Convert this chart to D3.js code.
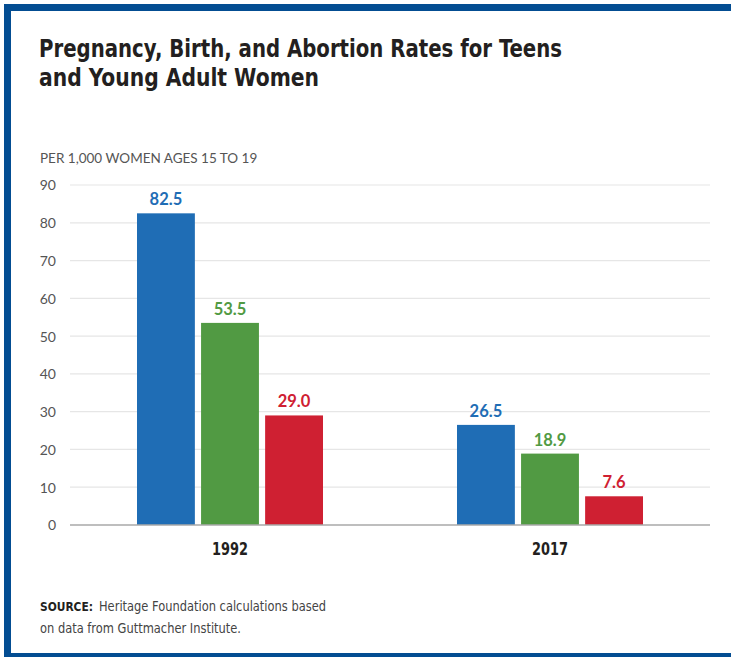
<!DOCTYPE html>
<html>
<head>
<meta charset="utf-8">
<script src="https://cdn.jsdelivr.net/npm/d3@7"></script>
<style>
  html, body { margin: 0; padding: 0; background: #fff; }
  svg { display: block; }
  .cond { font-family: "DejaVu Sans", sans-serif; font-stretch: condensed; }
</style>
</head>
<body>
<svg id="chart" width="731" height="657"></svg>
<script>
// Rates per 1,000 women ages 15 to 19
const years = ["1992", "2017"];
const measures = ["Pregnancy", "Birth", "Abortion"];
const pregnancy = [82.5, 26.5];
const birth = [53.5, 18.9];
const abortion = [29.0, 7.6];
const yTicks = [0, 10, 20, 30, 40, 50, 60, 70, 80, 90];
const colors = ["#1f6db5", "#519a43", "#cf2032"];

const seriesValues = [pregnancy, birth, abortion];
const rows = years.map((yr, i) => ({
  year: yr,
  values: measures.map((m, j) => ({ key: m, value: seriesValues[j][i], color: colors[j] }))
}));

const svg = d3.select("#chart");
const W = 731, H = 657;

// Frame: blue rule along top, left and bottom
const frame = "#034d92";
svg.append("rect").attr("x", 4).attr("y", 4).attr("width", W - 4).attr("height", 7).attr("fill", frame);
svg.append("rect").attr("x", 4).attr("y", 4).attr("width", 7).attr("height", H - 4).attr("fill", frame);
svg.append("rect").attr("x", 4).attr("y", 653).attr("width", W - 4).attr("height", 4).attr("fill", frame);

// Title (two lines, condensed bold)
const titleLines = [
  { text: "Pregnancy, Birth, and Abortion Rates for Teens", y: 57, len: 523 },
  { text: "and Young Adult Women", y: 86, len: 280 }
];
svg.append("g").selectAll("text").data(titleLines).join("text")
  .attr("class", "cond")
  .attr("x", 39).attr("y", d => d.y)
  .attr("font-weight", "bold").attr("font-size", 25).attr("fill", "#231f20")
  .attr("textLength", d => d.len).attr("lengthAdjust", "spacingAndGlyphs")
  .text(d => d.text);

// Unit note
svg.append("text")
  .attr("x", 40).attr("y", 163)
  .attr("font-family", "Lato, sans-serif").attr("font-size", 13.5).attr("fill", "#555")
  .text("PER 1,000 WOMEN AGES 15 TO 19");

const x0 = d3.scaleBand().domain(years).range([70, 710]).paddingInner(0).paddingOuter(0);
const groupW = 186;
const x1 = d3.scaleBand().domain(measures).range([0, groupW]).paddingInner(6 / 62).paddingOuter(0);
const y = d3.scaleLinear().domain([0, 90]).range([525, 185]);

// Gridlines and y labels
const yAxis = d3.axisLeft(y).tickValues(yTicks).tickSize(0).tickPadding(0);
const gy = svg.append("g").attr("transform", "translate(56,0)").call(yAxis);
gy.select(".domain").remove();
gy.selectAll("text")
  .attr("font-family", "Lato, sans-serif").attr("font-size", 14).attr("fill", "#555")
  .attr("dy", "0.35em");

svg.append("g").selectAll("line").data(yTicks.filter(t => t > 0)).join("line")
  .attr("x1", 70).attr("x2", 710)
  .attr("y1", d => y(d)).attr("y2", d => y(d))
  .attr("stroke", "#e6e6e6").attr("stroke-width", 1.2);

// Bars and value labels
const groups = svg.append("g").selectAll("g").data(rows).join("g")
  .attr("transform", d => `translate(${x0(d.year) + (x0.bandwidth() - groupW) / 2},0)`);

groups.selectAll("rect").data(d => d.values).join("rect")
  .attr("x", d => x1(d.key)).attr("width", x1.bandwidth())
  .attr("y", d => y(d.value)).attr("height", d => y(0) - y(d.value))
  .attr("fill", d => d.color);

groups.selectAll("text.val").data(d => d.values).join("text")
  .attr("class", "val")
  .attr("x", d => x1(d.key) + x1.bandwidth() / 2)
  .attr("y", d => y(d.value) - 8)
  .attr("text-anchor", "middle")
  .attr("font-family", "Lato, sans-serif").attr("font-weight", "bold").attr("font-size", 16.5)
  .attr("fill", d => d.color)
  .text(d => d.value.toFixed(1));

// Baseline
svg.append("line").attr("x1", 70).attr("x2", 710).attr("y1", y(0)).attr("y2", y(0))
  .attr("stroke", "#a8a8a8").attr("stroke-width", 1.5);

// X axis labels
const xAxis = d3.axisBottom(x0).tickSize(0).tickPadding(0);
const gx = svg.append("g").attr("transform", `translate(0,${y(0)})`).call(xAxis);
gx.select(".domain").remove();
gx.selectAll("text")
  .attr("class", "cond")
  .attr("font-family", null)
  .attr("font-weight", "bold").attr("font-size", 17).attr("fill", "#231f20")
  .attr("textLength", 36).attr("lengthAdjust", "spacingAndGlyphs")
  .attr("y", 30).attr("dy", 0);

// Source note
svg.append("text").attr("class", "cond")
  .attr("x", 40).attr("y", 611).attr("font-size", 13).attr("font-weight", "bold").attr("fill", "#231f20")
  .attr("textLength", 53).attr("lengthAdjust", "spacingAndGlyphs")
  .text("SOURCE:");
svg.append("text").attr("class", "cond")
  .attr("x", 99).attr("y", 611).attr("font-size", 14.5).attr("fill", "#444")
  .attr("textLength", 227).attr("lengthAdjust", "spacingAndGlyphs")
  .text("Heritage Foundation calculations based");
svg.append("text").attr("class", "cond")
  .attr("x", 40).attr("y", 633).attr("font-size", 14.5).attr("fill", "#444")
  .attr("textLength", 201).attr("lengthAdjust", "spacingAndGlyphs")
  .text("on data from Guttmacher Institute.");
</script>
</body>
</html>
